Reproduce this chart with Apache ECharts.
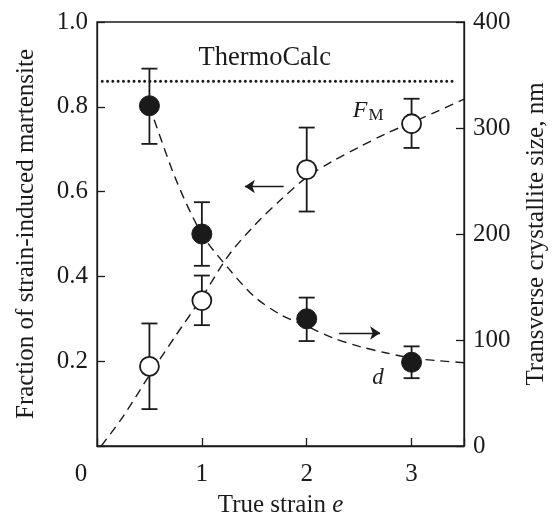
<!DOCTYPE html>
<html>
<head>
<meta charset="utf-8">
<script src="https://cdn.jsdelivr.net/npm/echarts@6/dist/echarts.min.js"></script>
<style>
  html, body { margin: 0; padding: 0; background: #fff; }
  #chart { width: 552px; height: 515px; }
</style>
</head>
<body>
<div id="chart"></div>
<script>
// measured points, true strain e
let strainPts = [0.5, 1, 2, 3];
// fraction of strain-induced martensite F_M (left axis)
let fmValues = [0.188, 0.343, 0.652, 0.760];
let fmErrLow = [0.087, 0.285, 0.553, 0.703];
let fmErrHigh = [0.289, 0.402, 0.751, 0.819];
// transverse crystallite size d, nm (right axis)
let dValues = [321, 200, 120, 79];
let dErrLow = [285, 170, 99, 64];
let dErrHigh = [356, 230, 140, 94];

// dashed guide curves
let fmCurveX = [0.04, 0.25, 0.5, 0.75, 1.0, 1.25, 1.5, 1.75, 2.0, 2.25, 2.5, 2.75, 3.0, 3.25, 3.5];
let fmCurveY = [0, 0.07, 0.167, 0.26, 0.35, 0.448, 0.52, 0.58, 0.634, 0.672, 0.705, 0.736, 0.763, 0.79, 0.818];
let dCurveX = [0.5, 0.75, 1.0, 1.25, 1.5, 1.75, 2.0, 2.25, 2.5, 2.75, 3.0, 3.25, 3.5];
let dCurveY = [321, 252, 200, 168, 141, 124, 113, 102, 94, 88, 83, 80.5, 78.6];

// ThermoCalc level
let thermoX = [0.05, 3.39];
let thermoLevel = 0.86;

// tick labels
let xTickLabels = {0: '0', 1: '1', 2: '2', 3: '3'};
let leftTickLabels = {0.2: '0.2', 0.4: '0.4', 0.6: '0.6', 0.8: '0.8', 1: '1.0'};
let rightTickLabels = {0: '0', 100: '100', 200: '200', 300: '300', 400: '400'};

let serif = "'Liberation Serif', 'Times New Roman', serif";
let ink = '#1a1a1a';

function zip(a, b) {
  let out = [];
  for (let i = 0; i < a.length; i++) out.push([a[i], b[i]]);
  return out;
}
function zip3(a, b, c) {
  let out = [];
  for (let i = 0; i < a.length; i++) out.push([a[i], b[i], c[i]]);
  return out;
}

/* error bars with caps */
function errorBarItem(params, api) {
  let x = api.value(0);
  let lo = api.coord([x, api.value(1)]);
  let hi = api.coord([x, api.value(2)]);
  let w = 8;
  let st = { stroke: ink, lineWidth: 1.8 };
  return {
    type: 'group',
    children: [
      { type: 'line', shape: { x1: lo[0], y1: lo[1], x2: hi[0], y2: hi[1] }, style: st },
      { type: 'line', shape: { x1: lo[0] - w, y1: lo[1], x2: lo[0] + w, y2: lo[1] }, style: st },
      { type: 'line', shape: { x1: hi[0] - w, y1: hi[1], x2: hi[0] + w, y2: hi[1] }, style: st }
    ]
  };
}

let axisLineStyle = { lineStyle: { color: ink, width: 1.3 } };
let tickStyle = { inside: true, length: 8, lineStyle: { color: ink, width: 1.3 } };
let arrowLine = {
  silent: true, symbol: ['none', 'arrow'], symbolSize: 10,
  label: { show: false },
  itemStyle: { color: ink },
  lineStyle: { color: ink, width: 1.3, type: 'solid' },
  emphasis: { disabled: true }
};

let myChart = echarts.init(document.getElementById('chart'));
let option = {
  animation: false,
  backgroundColor: '#fff',
  grid: {
    left: 97, top: 22, right: 88, bottom: 69,
    outerBoundsMode: 'none', containLabel: false,
    show: true, borderColor: ink, borderWidth: 1.3, backgroundColor: 'transparent'
  },
  xAxis: {
    type: 'value', min: 0, max: 3.5, interval: 1,
    name: '{n|True strain }{i|e}',
    nameLocation: 'middle', nameGap: 47,
    nameTextStyle: {
      rich: {
        n: { fontFamily: serif, fontSize: 25, color: ink },
        i: { fontFamily: serif, fontSize: 25, color: ink, fontStyle: 'italic' }
      }
    },
    axisLine: axisLineStyle,
    axisTick: tickStyle,
    splitLine: { show: false },
    axisLabel: {
      margin: 16,
      fontFamily: serif, fontSize: 25, color: ink,
      formatter: function (v) {
        let t = xTickLabels[v];
        if (t === undefined) return '';
        return v === 0 ? '{z|' + t + '}' : t;
      },
      rich: { z: { fontFamily: serif, fontSize: 25, color: ink, padding: [0, 32, 0, 0] } }
    }
  },
  yAxis: [
    {
      type: 'value', min: 0, max: 1, interval: 0.2, position: 'left',
      name: 'Fraction of strain-induced martensite',
      nameLocation: 'middle', nameGap: 58, nameRotate: 90,
      nameTextStyle: { fontFamily: serif, fontSize: 25, color: ink },
      axisLine: axisLineStyle,
      axisTick: tickStyle,
      splitLine: { show: false },
      axisLabel: {
        margin: 9, fontFamily: serif, fontSize: 25, color: ink,
        formatter: function (v) {
          let t = leftTickLabels[Math.round(v * 10) / 10];
          return t === undefined ? '' : t;
        }
      }
    },
    {
      type: 'value', min: 0, max: 400, interval: 100, position: 'right',
      name: 'Transverse crystallite size, nm',
      nameLocation: 'middle', nameGap: 60, nameRotate: 90,
      nameTextStyle: { fontFamily: serif, fontSize: 25, color: ink },
      axisLine: axisLineStyle,
      axisTick: tickStyle,
      splitLine: { show: false },
      axisLabel: {
        margin: 9, fontFamily: serif, fontSize: 25, color: ink,
        formatter: function (v) {
          let t = rightTickLabels[v];
          return t === undefined ? '' : t;
        }
      }
    }
  ],
  series: [
    {
      name: 'ThermoCalc',
      type: 'line', yAxisIndex: 0, silent: true, showSymbol: false,
      data: [[thermoX[0], thermoLevel], [thermoX[1], thermoLevel]],
      lineStyle: { color: ink, width: 3, type: [0, 5.3], cap: 'round' },
      markLine: Object.assign({}, arrowLine, {
        data: [[{ coord: [1.78, 0.612] }, { coord: [1.41, 0.612] }]]
      })
    },
    {
      name: 'F_M curve',
      type: 'line', yAxisIndex: 0, silent: true, showSymbol: false, smooth: 0.3,
      data: zip(fmCurveX, fmCurveY),
      lineStyle: { color: ink, width: 1.4, type: [9, 6] }
    },
    {
      name: 'd curve',
      type: 'line', yAxisIndex: 1, silent: true, showSymbol: false, smooth: 0.3,
      data: zip(dCurveX, dCurveY),
      lineStyle: { color: ink, width: 1.4, type: [9, 6] },
      markLine: Object.assign({}, arrowLine, {
        data: [[{ coord: [2.31, 106.6] }, { coord: [2.70, 106.6] }]]
      })
    },
    {
      name: 'F_M err',
      type: 'custom', yAxisIndex: 0, silent: true,
      renderItem: errorBarItem,
      encode: { x: 0, y: [1, 2] },
      data: zip3(strainPts, fmErrLow, fmErrHigh)
    },
    {
      name: 'd err',
      type: 'custom', yAxisIndex: 1, silent: true,
      renderItem: errorBarItem,
      encode: { x: 0, y: [1, 2] },
      data: zip3(strainPts, dErrLow, dErrHigh)
    },
    {
      name: 'F_M',
      type: 'scatter', yAxisIndex: 0, silent: true,
      symbol: 'circle', symbolSize: 19,
      itemStyle: { color: '#fff', borderColor: ink, borderWidth: 1.8, opacity: 1 },
      data: zip(strainPts, fmValues), z: 5
    },
    {
      name: 'd',
      type: 'scatter', yAxisIndex: 1, silent: true,
      symbol: 'circle', symbolSize: 20,
      itemStyle: { color: ink, borderColor: ink, borderWidth: 1, opacity: 1 },
      data: zip(strainPts, dValues), z: 5
    }
  ]
};
myChart.setOption(option);

/* text annotations placed from data coordinates */
let pThermo = myChart.convertToPixel({ xAxisIndex: 0, yAxisIndex: 0 }, [1.6, 0.915]);
let pFm = myChart.convertToPixel({ xAxisIndex: 0, yAxisIndex: 0 }, [2.44, 0.79]);
let pD = myChart.convertToPixel({ xAxisIndex: 0, yAxisIndex: 0 }, [2.68, 0.16]);
myChart.setOption({
  graphic: [
    {
      type: 'text', x: pThermo[0], y: pThermo[1], z: 10,
      style: { text: 'ThermoCalc', font: '26.5px ' + serif, fill: ink, align: 'center', verticalAlign: 'middle' }
    },
    {
      type: 'text', x: pFm[0], y: pFm[1], z: 10,
      style: {
        text: '{f|F}{m|M}', align: 'left', verticalAlign: 'middle',
        rich: {
          f: { fontFamily: serif, fontSize: 24, fontStyle: 'italic', fill: ink, color: ink },
          m: { fontFamily: serif, fontSize: 17, fill: ink, color: ink, padding: [9, 0, 0, 1] }
        }
      }
    },
    {
      type: 'text', x: pD[0], y: pD[1], z: 10,
      style: { text: 'd', font: 'italic 23px ' + serif, fill: ink, align: 'center', verticalAlign: 'middle' }
    }
  ]
});
</script>
</body>
</html>
